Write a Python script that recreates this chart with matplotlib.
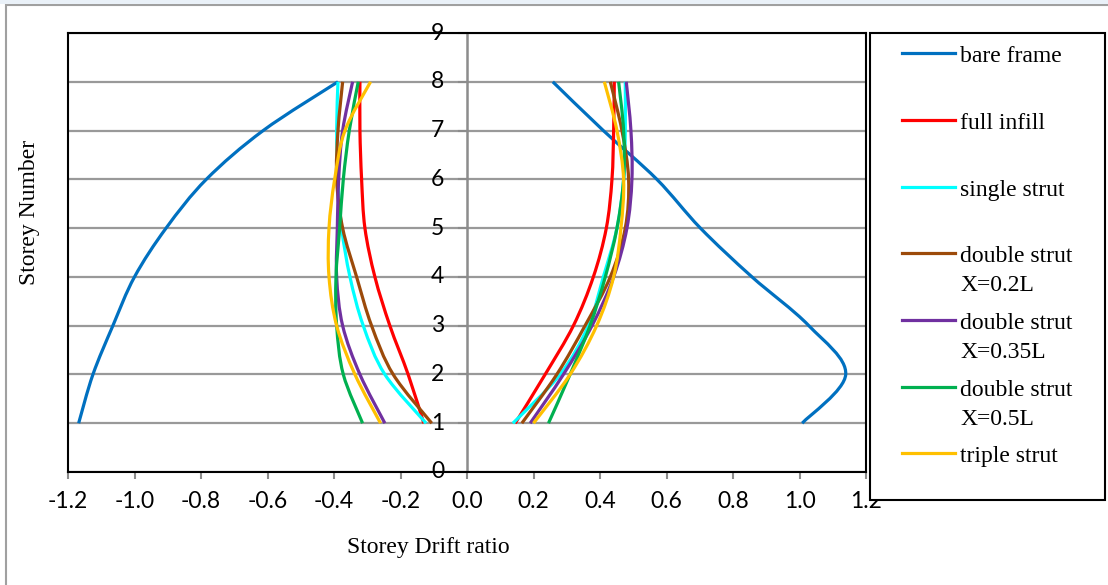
import numpy as np
import matplotlib
matplotlib.use('Agg')
import matplotlib.pyplot as plt
from matplotlib.path import Path
from matplotlib.patches import PathPatch, Rectangle
from matplotlib.lines import Line2D

# storey levels (same for every branch)
storeys = [1, 2, 3, 4, 5, 6, 7, 8]

# drift ratio, negative side (left branch)
bare_left = [-1.168, -1.125, -1.065, -1.0, -0.905, -0.784, -0.613, -0.388]
full_left = [-0.13, -0.177, -0.232, -0.277, -0.307, -0.317, -0.322, -0.322]
single_left = [-0.123, -0.247, -0.312, -0.352, -0.377, -0.388, -0.392, -0.388]
dbl02_left = [-0.106, -0.222, -0.287, -0.332, -0.374, -0.392, -0.388, -0.374]
dbl035_left = [-0.247, -0.322, -0.374, -0.392, -0.39, -0.386, -0.374, -0.344]
dbl05_left = [-0.314, -0.372, -0.392, -0.394, -0.383, -0.372, -0.354, -0.327]
triple_left = [-0.26, -0.337, -0.392, -0.415, -0.415, -0.398, -0.367, -0.29]

# drift ratio, positive side (right branch)
bare_right = [1.008, 1.139, 1.028, 0.857, 0.702, 0.571, 0.41, 0.258]
full_right = [0.145, 0.235, 0.32, 0.38, 0.419, 0.436, 0.441, 0.443]
single_right = [0.138, 0.28, 0.365, 0.41, 0.451, 0.471, 0.476, 0.476]
dbl02_right = [0.165, 0.27, 0.355, 0.431, 0.476, 0.486, 0.466, 0.431]
dbl035_right = [0.19, 0.29, 0.376, 0.441, 0.481, 0.496, 0.493, 0.479]
dbl05_right = [0.245, 0.31, 0.37, 0.416, 0.451, 0.471, 0.471, 0.456]
triple_right = [0.2, 0.31, 0.39, 0.441, 0.463, 0.471, 0.451, 0.413]

labels = ['bare frame', 'full infill', 'single strut', 'double strut\nX=0.2L',
          'double strut\nX=0.35L', 'double strut\nX=0.5L', 'triple strut']
colors = ['#0070C0', '#FF0000', '#00FFFF', '#9C4A0A', '#7030A0', '#00B050', '#FFC000']
lefts = [bare_left, full_left, single_left, dbl02_left, dbl035_left, dbl05_left, triple_left]
rights = [bare_right, full_right, single_right, dbl02_right, dbl035_right, dbl05_right, triple_right]
xticks = [-1.2, -1.0, -0.8, -0.6, -0.4, -0.2, 0.0, 0.2, 0.4, 0.6, 0.8, 1.0, 1.2]
yticks = [0, 1, 2, 3, 4, 5, 6, 7, 8, 9]

W, H = 1108, 585


def smooth_path(xs, ys):
    # excel style smoothed line: cubic bezier through every point
    p = np.column_stack([xs, ys]).astype(float)
    n = len(p)
    verts = [p[0]]
    codes = [Path.MOVETO]
    for i in range(n - 1):
        p0 = p[i - 1] if i > 0 else p[i]
        p1 = p[i]
        p2 = p[i + 1]
        p3 = p[i + 2] if i + 2 < n else p[i + 1]
        c1 = p1 + (p2 - p0) / 6.0
        c2 = p2 - (p3 - p1) / 6.0
        verts += [c1, c2, p2]
        codes += [Path.CURVE4] * 3
    return Path(verts, codes)


def fx(px):
    return px / W


def fy(py):
    return 1 - py / H


fig = plt.figure(figsize=(W / 100, H / 100), dpi=100)
# outer chart border, only left and top show
fig.add_artist(Rectangle((fx(6), -1), 2, fy(5) + 1, transform=fig.transFigure,
                         facecolor='none', edgecolor='#A0A0A0', linewidth=1.5))
fig.add_artist(Rectangle((0, fy(4)), 1, 1, transform=fig.transFigure,
                         facecolor='#EAF1F8', edgecolor='none'))

ax = fig.add_axes([fx(68), fy(472), fx(866) - fx(68), fy(33) - fy(472)])
ax.set_xlim(-1.2, 1.2)
ax.set_ylim(0, 9)

for sp in ax.spines.values():
    sp.set_color('black')
    sp.set_linewidth(1.5)

ax.set_yticks(yticks)
ax.set_xticks(xticks)
ax.set_xticklabels(['%.1f' % v for v in xticks])
ax.yaxis.grid(True, color='#999999', linewidth=1.6)
ax.set_axisbelow(True)

# y axis sits at x = 0, x axis at y = 0
ax.axvline(0, color='#8C8C8C', linewidth=1.8, zorder=1.5)
ax.axhline(0, color='#8C8C8C', linewidth=1.8, zorder=1.5)
ax.tick_params(axis='x', direction='out', length=5, width=1.5, color='#8C8C8C',
               labelsize=16.5, pad=9)
for t in ax.get_xticklabels():
    t.set_family('Lato')
ax.set_yticklabels([])
ax.tick_params(axis='y', left=False)
for k in yticks:
    ax.plot([-0.025, 0], [k, k], color='#8C8C8C', linewidth=1.5, zorder=1.6, clip_on=False)
    ax.text(-0.088, k, str(k), ha='center', va='center', fontsize=16.5, family='Lato', zorder=5)

for i in range(len(labels)):
    for xs in (lefts[i], rights[i]):
        ax.add_patch(PathPatch(smooth_path(xs, storeys), facecolor='none',
                               edgecolor=colors[i], linewidth=2.3, zorder=3,
                               capstyle='butt'))

fig.text(fx(30), fy(212), 'Storey Number', rotation=90, ha='center', va='center',
         fontsize=17, family='Liberation Serif')
fig.text(fx(428), fy(548), 'Storey Drift ratio', ha='center', va='center',
         fontsize=17, family='Liberation Serif')

# legend box drawn by hand
fig.add_artist(Rectangle((fx(870), fy(500)), fx(1105) - fx(870), fy(33) - fy(500),
                         transform=fig.transFigure, facecolor='white',
                         edgecolor='black', linewidth=1.5))
leg_y = [53, 120, 187, 253, 320, 387, 453]
for i in range(len(labels)):
    fig.add_artist(Line2D([fx(902), fx(955)], [fy(leg_y[i]), fy(leg_y[i])],
                          transform=fig.transFigure, color=colors[i], linewidth=2.3))
    for j, line in enumerate(labels[i].split('\n')):
        fig.text(fx(960), fy(leg_y[i] + 9 + 29 * j), line, ha='left', va='baseline',
                 fontsize=17, family='Liberation Serif')

fig.savefig('out.png', dpi=100)
